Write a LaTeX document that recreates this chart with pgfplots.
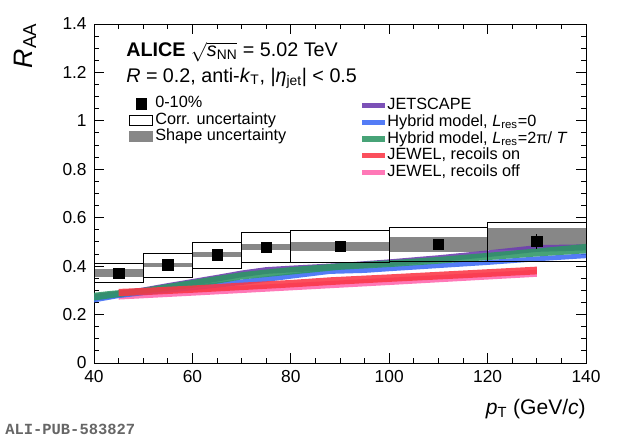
\documentclass[border=0pt]{standalone}
\usepackage{fontspec}
\setmainfont{Liberation Sans}
\newfontfamily\monofont{Liberation Mono}
\usepackage{amsmath}
\usepackage{pgfplots}
\pgfplotsset{compat=1.18}
\definecolor{cjet}{RGB}{110,62,175}
\definecolor{chyb}{RGB}{65,110,245}
\definecolor{chybt}{RGB}{45,150,100}
\definecolor{cjon}{RGB}{250,55,70}
\definecolor{cjoff}{RGB}{255,105,175}
\definecolor{shapegray}{RGB}{135,135,135}
\newcommand\PX[2]{({#1*0.75pt},{(440-#2)*0.75pt})}
\begin{document}
\begin{tikzpicture}
\useasboundingbox (0,0) rectangle (465pt,330pt);
\begin{axis}[
  at={(70.5pt,57.75pt)}, anchor=south west, scale only axis,
  width=369pt, height=254.25pt,
  xmin=40, xmax=140, ymin=0, ymax=1.4,
  xtick={40,60,80,100,120,140},
  ytick={0,0.2,0.4,0.6,0.8,1,1.2,1.4},
  yticklabels={0,0.2,0.4,0.6,0.8,1,1.2,1.4},
  minor x tick num=3, minor y tick num=3,
  tick align=inside, major tick length=7.5pt, minor tick length=3.75pt,
  axis line style={line width=0.75pt},
  tick style={line width=0.75pt, black},
  /pgf/number format/assume math mode=true,
  ticklabel style={font=\fontsize{13}{13}\selectfont},
  xticklabel style={yshift=-2pt},
  yticklabel style={xshift=-2pt},
  legend image code/.code={\fill[#1] (0pt,-1.9pt) rectangle (17.25pt,1.9pt);},
  legend cell align=left,
  legend style={at={(axis cs:94.5,1.097)}, anchor=north west, draw=none, fill=none,
    inner sep=0pt, font=\fontsize{12.2}{12.2}\selectfont, row sep=1.25pt,
    nodes={inner xsep=1.5pt, inner ysep=0pt, text height=8.8pt, text depth=2.6pt}},
]
% shape uncertainty (gray)
\addplot[fill=shapegray, draw=none, forget plot] coordinates {(40,0.354)(50,0.354)(50,0.389)(40,0.389)} -- cycle;
\addplot[fill=shapegray, draw=none, forget plot] coordinates {(50,0.396)(60,0.396)(60,0.412)(50,0.412)} -- cycle;
\addplot[fill=shapegray, draw=none, forget plot] coordinates {(60,0.437)(70,0.437)(70,0.458)(60,0.458)} -- cycle;
\addplot[fill=shapegray, draw=none, forget plot] coordinates {(70,0.465)(80,0.465)(80,0.492)(70,0.492)} -- cycle;
\addplot[fill=shapegray, draw=none, forget plot] coordinates {(80,0.461)(100,0.461)(100,0.499)(80,0.499)} -- cycle;
\addplot[fill=shapegray, draw=none, forget plot] coordinates {(100,0.458)(120,0.458)(120,0.520)(100,0.520)} -- cycle;
\addplot[fill=shapegray, draw=none, forget plot] coordinates {(120,0.465)(140,0.465)(140,0.559)(120,0.559)} -- cycle;
% JEWEL recoils off (drawn first, legend image added later)
\addplot[fill=cjoff, draw=none, fill opacity=0.9, forget plot] coordinates {
 (45,0.292)(60,0.308)(80,0.330)(100,0.352)(130,0.385)
 (130,0.356)(100,0.322)(80,0.300)(60,0.278)(45,0.262)} -- cycle;
% JETSCAPE
\addplot[fill=cjet, draw=none, fill opacity=0.9] coordinates {
 (40,0.285)(45,0.298)(50,0.312)(55,0.330)(60,0.347)(65,0.364)(70,0.382)(75,0.396)(80,0.402)(90,0.413)(100,0.428)(110,0.445)(120,0.465)(130,0.487)(140,0.490)
 (140,0.465)(130,0.459)(120,0.437)(110,0.417)(100,0.400)(90,0.385)(80,0.374)(75,0.368)(70,0.354)(65,0.336)(60,0.319)(55,0.302)(50,0.284)(45,0.270)(40,0.257)} -- cycle;
% Hybrid Lres=0
\addplot[fill=chyb, draw=none, fill opacity=0.9] coordinates {
 (40,0.272)(45,0.290)(50,0.302)(60,0.322)(70,0.345)(80,0.370)(88,0.388)(95,0.392)(100,0.400)(110,0.412)(120,0.425)(130,0.440)(140,0.453)
 (140,0.433)(130,0.420)(120,0.405)(110,0.392)(100,0.379)(95,0.372)(88,0.368)(80,0.348)(70,0.322)(60,0.300)(50,0.280)(45,0.268)(40,0.250)} -- cycle;
% Hybrid Lres=2pi/T
\addplot[fill=chybt, draw=none, fill opacity=0.88] coordinates {
 (40,0.290)(43,0.297)(50,0.310)(60,0.343)(70,0.375)(75,0.386)(80,0.396)(90,0.412)(100,0.424)(110,0.438)(120,0.455)(130,0.473)(140,0.492)
 (140,0.453)(130,0.440)(120,0.425)(110,0.410)(100,0.396)(90,0.385)(80,0.365)(70,0.345)(60,0.310)(50,0.286)(45,0.272)(40,0.258)} -- cycle;
% JEWEL recoils on
\addplot[fill=cjon, draw=none, fill opacity=0.88] coordinates {
 (45,0.306)(50,0.310)(60,0.320)(70,0.332)(80,0.343)(88,0.354)(100,0.366)(115,0.382)(130,0.398)
 (130,0.366)(115,0.350)(100,0.335)(88,0.322)(80,0.312)(70,0.301)(60,0.290)(50,0.280)(45,0.276)} -- cycle;
\addlegendimage{fill=cjoff, draw=none, fill opacity=0.9}
\legend{JETSCAPE, Hybrid model{,} \textit{L}$_{\text{res}}$=0, Hybrid model{,} \textit{L}$_{\text{res}}$=2π/ \textit{T}, JEWEL{,} recoils on, JEWEL{,} recoils off}
\end{axis}
\begin{axis}[
  at={(70.5pt,57.75pt)}, anchor=south west, scale only axis,
  width=369pt, height=254.25pt,
  xmin=40, xmax=140, ymin=0, ymax=1.4,
  hide axis,
  legend cell align=left,
  legend style={at={(axis cs:47.1,1.103)}, anchor=north west, draw=none, fill=none,
    inner sep=0pt, font=\fontsize{12.2}{12.2}\selectfont, row sep=0.8pt,
    nodes={inner xsep=1.8pt, inner ysep=0pt, text height=8.8pt, text depth=2.6pt}},
]
% correlated uncertainty boxes
\addplot[draw=black, line width=0.75pt, forget plot] coordinates {(40,0.334)(50,0.334)(50,0.410)(40,0.410)} -- cycle;
\addplot[draw=black, line width=0.75pt, forget plot] coordinates {(50,0.354)(60,0.354)(60,0.454)(50,0.454)} -- cycle;
\addplot[draw=black, line width=0.75pt, forget plot] coordinates {(60,0.389)(70,0.389)(70,0.499)(60,0.499)} -- cycle;
\addplot[draw=black, line width=0.75pt, forget plot] coordinates {(70,0.414)(80,0.414)(80,0.541)(70,0.541)} -- cycle;
\addplot[draw=black, line width=0.75pt, forget plot] coordinates {(80,0.417)(100,0.417)(100,0.548)(80,0.548)} -- cycle;
\addplot[draw=black, line width=0.75pt, forget plot] coordinates {(100,0.421)(120,0.421)(120,0.561)(100,0.561)} -- cycle;
\addplot[draw=black, line width=0.75pt, forget plot] coordinates {(120,0.421)(140,0.421)(140,0.579)(120,0.579)} -- cycle;
% data points
\addplot[only marks, mark=square*, mark size=3.9pt, black,
  error bars/.cd, y dir=both, y explicit, error mark=none, error bar style={line width=0.75pt, black},
  ] coordinates {
 (45,0.371) +- (0,0.004)
 (55,0.405) +- (0,0.004)
 (65,0.447) +- (0,0.005)
 (75,0.479) +- (0,0.006)
 (90,0.481) +- (0,0.008)
 (110,0.490) +- (0,0.016)
 (130,0.503) +- (0,0.031)};
\addlegendentry{0-10\%}
\addlegendimage{legend image code/.code={\draw[black,line width=0.75pt] (0pt,-3.75pt) rectangle (17pt,3.75pt);}}
\addlegendentry{Corr. uncertainty}
\addlegendimage{legend image code/.code={\fill[shapegray] (0pt,-3.75pt) rectangle (17pt,3.75pt);}}
\addlegendentry{Shape uncertainty}
\end{axis}
\node[anchor=base west, inner sep=0pt, font=\fontsize{14.8}{14.8}\selectfont] at \PX{126}{57}
  {\textbf{ALICE} $\sqrt{\text{\textit{s}}_{\text{NN}}}$ = 5.02 TeV};
\node[anchor=base west, inner sep=0pt, font=\fontsize{14.8}{14.8}\selectfont] at \PX{126}{82}
  {\textit{R} = 0.2, anti-\textit{k}$_{\text{T}}$, |\textit{η}$_{\text{jet}}$| < 0.5};
\node[anchor=base east, inner sep=0pt, font=\fontsize{15.8}{15.8}\selectfont] at \PX{586}{414}
  {\textit{p}$_{\text{T}}$ (GeV/\textit{c})};
\node[rotate=90, anchor=base east, inner sep=0pt, font=\fontsize{20}{20}\selectfont] at \PX{32}{23}
  {\textit{R}$_{\text{AA}}$};
\node[anchor=base west, inner sep=0pt, font=\monofont\bfseries\fontsize{11.6}{12}\selectfont, text=black!60] at \PX{5}{434}
  {ALI-PUB-583827};
\end{tikzpicture}
\end{document}
